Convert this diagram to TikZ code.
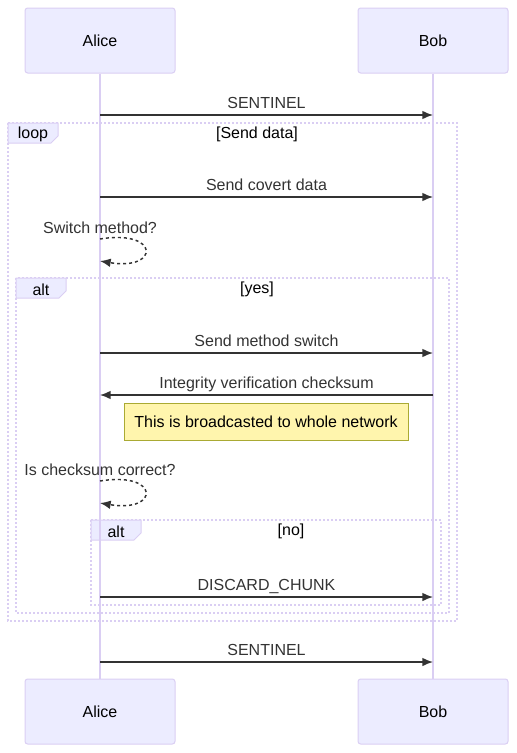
\documentclass[tikz,border=0pt]{standalone}
\usepackage{fontspec}
\setmainfont{Liberation Sans}
\usetikzlibrary{arrows.meta}
\definecolor{actfill}{HTML}{ECECFF}
\definecolor{actline}{HTML}{DACEF3}
\definecolor{msgcol}{HTML}{333333}
\definecolor{notefill}{HTML}{FFF5AD}
\definecolor{noteline}{HTML}{AAAA33}

\begin{document}
\begin{tikzpicture}[x=0.75pt, y=-0.75pt,
		>={Latex[length=8pt,width=6.5pt]},   %Pfeilspitzen
		font=\fontsize{12}{14}\selectfont,
		actor/.style={draw=actline, fill=actfill, line width=0.75pt, rounded corners=2pt, minimum width=112.5pt, minimum height=48.75pt, inner sep=0pt},
		lifeline/.style={draw=actline, line width=1.1pt},
		msg/.style={->, draw=msgcol, line width=1.1pt},
		selfmsg/.style={->, draw=msgcol, line width=1.1pt, dash pattern=on 2.25pt off 2.25pt},
		lbl/.style={text=msgcol, inner sep=0pt, text height=9pt, text depth=3pt},
		frame/.style={draw=actline, line width=1.5pt, dash pattern=on 1.5pt off 1.5pt},
		tab/.style={draw=actline, fill=actfill, line width=0.75pt},
		note/.style={draw=noteline, fill=notefill, line width=0.75pt, minimum width=213pt, minimum height=27.75pt, inner sep=0pt}]
	\useasboundingbox (0,0) rectangle (517,753);
	% Rahmen (loop / alt / alt)
	\draw[frame] (8,123) rectangle (457,621);
	\draw[tab] (8,123) -- (58,123) -- (58,136) -- (51,143) -- (8,143) -- cycle;
	\node (loopTag) at (33,134.5) {loop};
	\node (loopCond) at (257,134.5) {[Send data]};
	\draw[frame] (16,278) rectangle (449,613);
	\draw[tab] (16,278) -- (66,278) -- (66,291) -- (59,298) -- (16,298) -- cycle;
	\node (altTag) at (41,289.5) {alt};
	\node (altCond) at (257,289.5) {[yes]};
	\draw[frame] (91,520) rectangle (441,605);
	\draw[tab] (91,520) -- (141,520) -- (141,533) -- (134,540) -- (91,540) -- cycle;
	\node (noTag) at (116,531.5) {alt};
	\node (noCond) at (291,531.5) {[no]};
	% Teilnehmer
	\node[actor] (aliceTop) at (100,40.5) {\raisebox{-1pt}{Alice}};
	\node[actor] (bobTop) at (433,40.5) {\raisebox{-1pt}{Bob}};
	\node[actor] (aliceBot) at (100,711.5) {\raisebox{-1pt}{Alice}};
	\node[actor] (bobBot) at (433,711.5) {\raisebox{-1pt}{Bob}};
	\draw[lifeline] (aliceTop.south) -- (aliceBot.north);
	\draw[lifeline] (bobTop.south) -- (bobBot.north);
	% Nachrichten
	\coordinate (a1) at (100,115); \coordinate (b1) at (433,115);
	\coordinate (a2) at (100,197); \coordinate (b2) at (433,197);
	\coordinate (a3) at (100,353); \coordinate (b3) at (433,353);
	\coordinate (a4) at (100,395); \coordinate (b4) at (433,395);
	\coordinate (a5) at (100,597); \coordinate (b5) at (433,597);
	\coordinate (a6) at (100,662); \coordinate (b6) at (433,662);
	\draw[msg] (a1) -- node[lbl, above=1.2pt] (m1) {SENTINEL} (b1);
	\draw[msg] (a2) -- node[lbl, above=1.2pt] (m2) {Send covert data} (b2);
	\draw[msg] (a3) -- node[lbl, above=1.2pt] (m3) {Send method switch} (b3);
	\draw[msg] (b4) -- node[lbl, above=1.2pt] (m4) {Integrity verification checksum} (a4);
	\draw[msg] (a5) -- node[lbl, above=1.2pt] (m5) {DISCARD\_CHUNK} (b5);
	\draw[msg] (a6) -- node[lbl, above=1.2pt] (m6) {SENTINEL} (b6);
	% Selbstaufrufe
	\coordinate (s1) at (100,239); \coordinate (s1e) at (100,261);
	\coordinate (s2) at (100,481); \coordinate (s2e) at (100,503);
	\node[lbl, above=1.2pt] (q1) at (s1) {Switch method?};
	\draw[selfmsg] (s1) .. controls (160,229) and (160,271) .. (s1e);
	\node[lbl, above=1.2pt] (q2) at (s2) {Is checksum correct?};
	\draw[selfmsg] (s2) .. controls (160,471) and (160,513) .. (s2e);
	% Notiz
	\node[note] (bcast) at (266,421.5) {\raisebox{-1pt}{This is broadcasted to whole network}};
\end{tikzpicture}
\end{document}
